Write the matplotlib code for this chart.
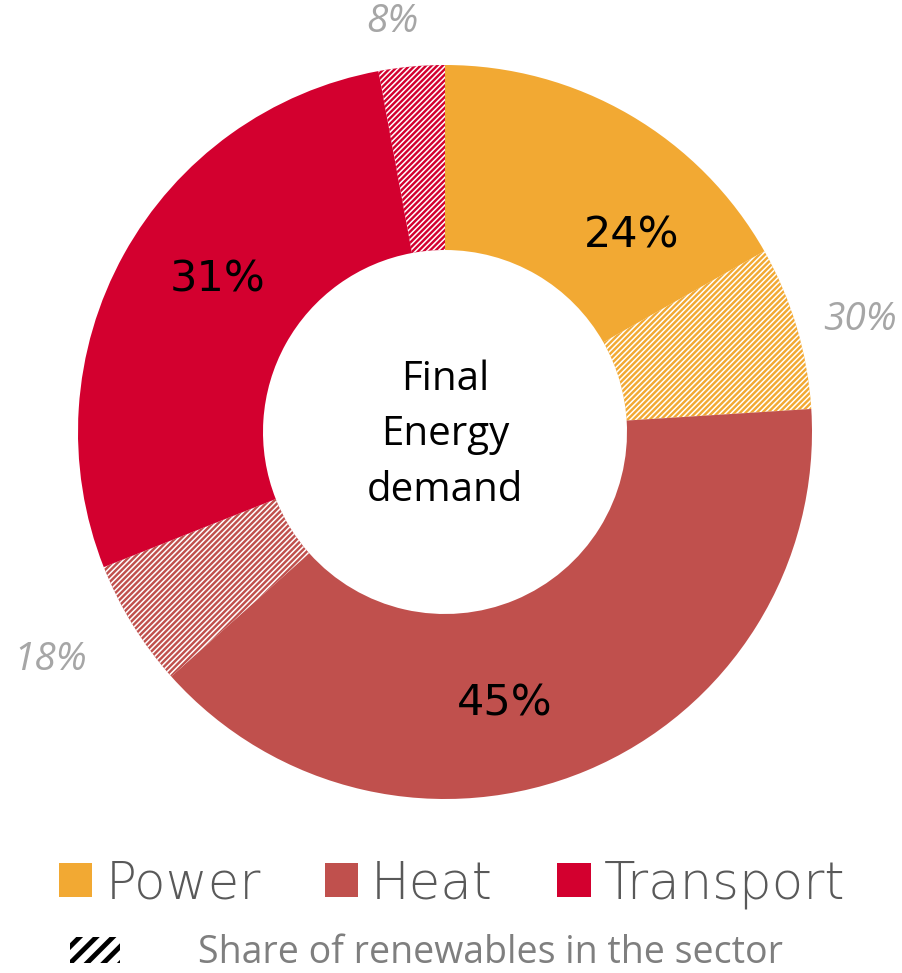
import matplotlib.pyplot as plt
from matplotlib.patches import Patch

# sector shares of final energy demand and renewable share within each sector
sectors = ["Power", "Heat", "Transport"]
shares = [24, 45, 31]
renewables = [30, 18, 8]
# size of the hatched (renewable) slice as drawn in the chart, % of total demand
hatched_drawn = [7.2, 5.6, 2.9]
colors = ["#F2A933", "#C0504D", "#D3002F"]

# split each sector into solid part and hatched part
values, wedge_colors, hatched = [], [], []
for s, h, c in zip(shares, hatched_drawn, colors):
    values += [s - h, h]
    wedge_colors += [c, c]
    hatched += [False, True]

W, H = 902, 973
fig = plt.figure(figsize=(W / 100, H / 100), dpi=100)
ax = fig.add_axes([0, 0, 1, 1])

cx, cy, R = 445, H - 432, 367
wedges, _ = ax.pie(values, colors=wedge_colors, startangle=90, counterclock=False,
                   center=(cx, cy), radius=R, frame=True,
                   wedgeprops=dict(width=185, linewidth=0))
ax.set_xlim(0, W)
ax.set_ylim(0, H)
ax.axis("off")

for w, h in zip(wedges, hatched):
    if h:
        w.set_edgecolor("white")
        w.set_linewidth(0)
        w.set_hatch("//////")
        if hasattr(w, "set_hatch_linewidth"):
            w.set_hatch_linewidth(1.1)

# centre label
ax.text(cx, cy - 3, "Final\nEnergy\ndemand", ha="center", va="center",
        fontsize=29, family="Open Sans", linespacing=1.5, color="black")

# sector percentages inside the ring
inner_pos = [(632, 235), (505, 703), (218, 280)]
for (x, y), s in zip(inner_pos, shares):
    ax.text(x, H - y, f"{s}%", ha="center", va="center", fontsize=31,
            family="DejaVu Sans", color="black")

# renewable shares outside the ring
outer_pos = [(860, 320), (50, 660), (392, 22)]
for (x, y), r in zip(outer_pos, renewables):
    ax.text(x, H - y, f"{r}%", ha="center", va="center", fontsize=28,
            family="Open Sans", style="italic", color="#A6A6A6")

# legends
handles = [Patch(facecolor=c, edgecolor="none") for c in colors]
leg1 = fig.legend(handles, sectors, loc="center", bbox_to_anchor=(452 / W, 1 - 884 / H),
                  ncol=3, frameon=False, handlelength=0.65, handleheight=0.65,
                  handletextpad=0.25, columnspacing=1.25, labelcolor="#595959",
                  borderpad=0, prop={"family": "DejaVu Sans", "size": 37, "weight": "light"})

hp = Patch(facecolor="white", edgecolor="black", linewidth=0, hatch="//")
leg2 = fig.legend([hp], ["Share of renewables in the sector"], loc="center left",
                  bbox_to_anchor=(51 / W, 1 - 953 / H), frameon=False, borderpad=0,
                  handlelength=1.33, handleheight=0.67, handletextpad=2.1,
                  labelcolor="#7F7F7F", prop={"family": "Open Sans", "size": 27})
for lh in leg2.legend_handles:
    if hasattr(lh, "set_hatch_linewidth"):
        lh.set_hatch_linewidth(3.5)

fig.savefig("out.png", dpi=100)
